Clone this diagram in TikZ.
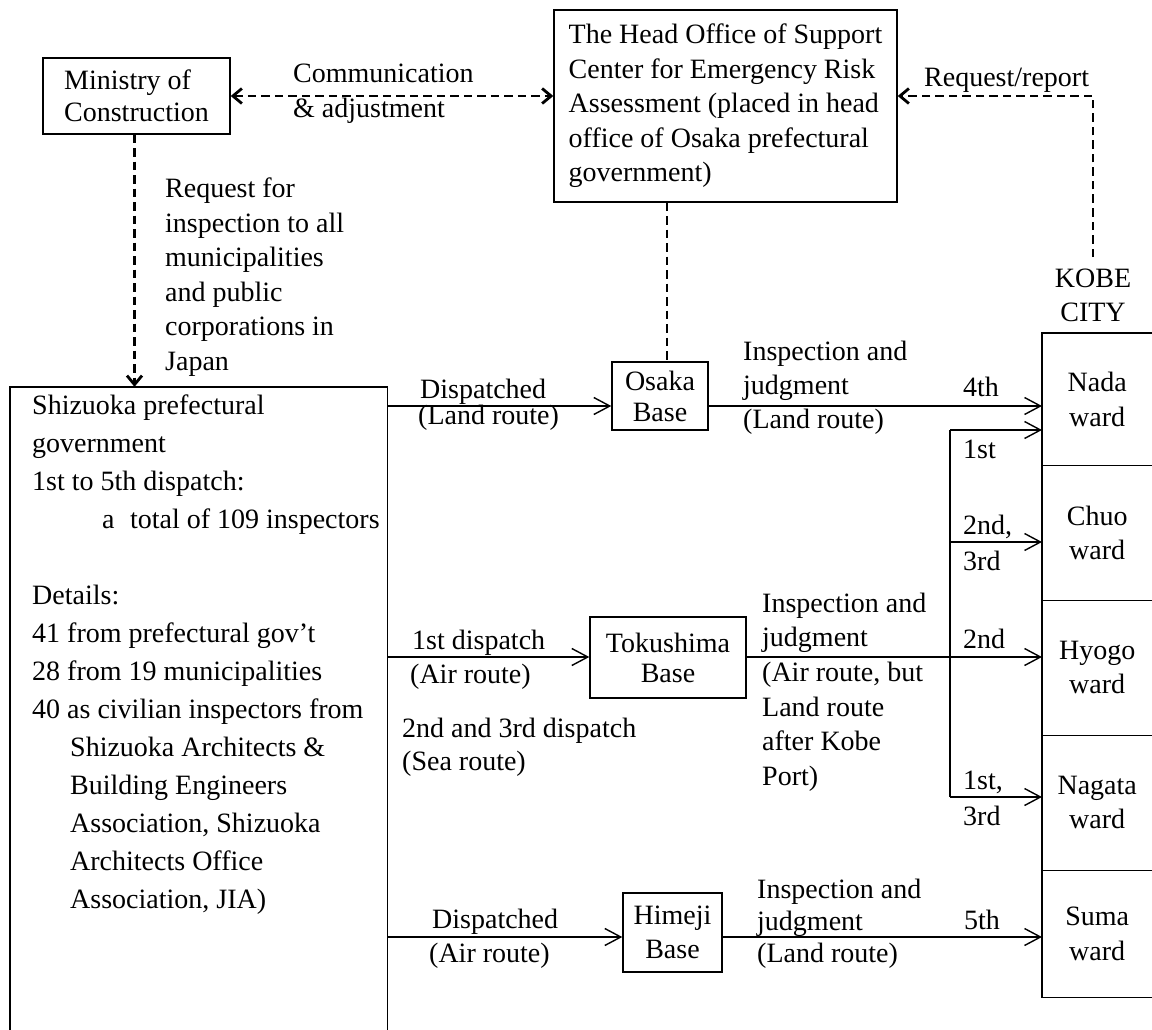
\documentclass[tikz,border=0pt]{standalone}
\usepackage{fontspec}
\setmainfont{Liberation Serif}
\usetikzlibrary{arrows.meta}
\begin{document}
\begin{tikzpicture}[x=1pt,y=-1pt,
  every node/.style={font=\fontsize{28}{34.5}\selectfont, inner sep=0pt},
  box/.style={draw, line width=1.4pt, align=center},
  lbl/.style={anchor=base west},
  blk/.style={anchor=north west, align=left},
  ward/.style={minimum width=110pt, align=center, anchor=north west},
  sol/.style={line width=1.4pt, -{Straight Barb[length=16pt,width=17pt]}},
  thin/.style={line width=1.4pt},
  dsh/.style={line width=2.4pt, dash pattern=on 8.5pt off 5pt}
]
\useasboundingbox (0,0) rectangle (1152,1030);

% boxes
\node[box, minimum width=187pt, minimum height=76pt, align=left,
      font=\fontsize{28}{32}\selectfont] (min) at (136.5,96) {Ministry of\\Construction};
\node[box, minimum width=343pt, minimum height=192pt, align=left] (head) at (725.5,106)
  {The Head Office of Support\\Center for Emergency Risk\\Assessment (placed in head\\office of Osaka prefectural\\government)};
\node[box, minimum width=96pt, minimum height=68pt, font=\fontsize{28}{31}\selectfont] (osaka) at (660,396) {Osaka\\Base};
\node[box, minimum width=156pt, minimum height=81pt, font=\fontsize{28}{30}\selectfont] (toku) at (668,657.5) {Tokushima\\Base};
\node[box, minimum width=99pt, minimum height=79pt, font=\fontsize{28}{34}\selectfont] (himeji) at (672.5,932.5) {Himeji\\Base};

% left box
\node[minimum width=377pt, minimum height=644pt] (shiz) at (198.5,709) {};
\draw[thin] (shiz.south west) -- (shiz.north west) -- (shiz.north east) -- (shiz.south east);
\node[blk, font=\fontsize{28}{38}\selectfont] (shiztxt) at (32,394.7)
  {Shizuoka prefectural\\government\\1st to 5th dispatch:\\\hspace*{70pt}a\hspace{0.55em}total of 109 inspectors\\[38pt]
   Details:\\41 from prefectural gov't\\28 from 19 municipalities\\40 as civilian inspectors from\\
   \hspace*{38pt}Shizuoka Architects \&\\\hspace*{38pt}Building Engineers\\\hspace*{38pt}Association, Shizuoka\\
   \hspace*{38pt}Architects Office\\\hspace*{38pt}Association, JIA)};

% Kobe city column
\node[align=center, anchor=north, font=\fontsize{28}{34}\selectfont] (kobe) at (1093,269) {KOBE\\CITY};
\node[ward, minimum height=132pt] (nada) at (1042,333) {Nada\\ward};
\node[ward, minimum height=135pt] (chuo) at (1042,465) {Chuo\\ward};
\node[ward, minimum height=135pt] (hyogo) at (1042,600) {Hyogo\\ward};
\node[ward, minimum height=135pt] (nagata) at (1042,735) {Nagata\\ward};
\node[ward, minimum height=127pt] (suma) at (1042,870) {Suma\\ward};
\draw[thin] (nada.north east) -- (nada.north west) -- (suma.south west) -- (suma.south east);
\draw[thin] (nada.south west) -- (nada.south east);
\draw[thin] (chuo.south west) -- (chuo.south east);
\draw[thin] (hyogo.south west) -- (hyogo.south east);
\draw[thin] (nagata.south west) -- (nagata.south east);

% dashed connectors
\coordinate (hr) at (head.east |- min.east);
\draw[dsh, {Straight Barb[length=9pt,width=15pt,line width=2.8pt]}-{Straight Barb[length=9pt,width=15pt,line width=2.8pt]}]
  (min.east) -- (min.east -| head.west);
\draw[dsh, -{Straight Barb[length=9pt,width=15pt,line width=2.8pt]}] ([yshift=12pt]kobe.north) |- (hr);
\draw[dsh, -{Straight Barb[length=9pt,width=15pt,line width=2.8pt]}] ([xshift=-2pt]min.south) -- ([xshift=-2pt]min.south |- shiz.north);
\draw[dsh] ([xshift=7pt]osaka.north |- head.south) -- ([xshift=7pt]osaka.north);

% text labels near top
\node[lbl] (comm1) at (293,83) {Communication};
\node[lbl] (comm2) at (293,118) {\& adjustment};
\node[lbl] (req) at (924,87) {Request/report};
\node[blk] (reqfor) at (165,177.7) {Request for\\inspection to all\\municipalities\\and public\\corporations in\\Japan};

% route lines
\coordinate (l1) at (0,406);
\coordinate (l2) at (0,657);
\coordinate (l3) at (0,937);
\draw[sol] (shiz.north east |- l1) -- (osaka.west |- l1);
\draw[sol] (osaka.east |- l1) -- (nada.west |- l1);
\draw[sol] (shiz.north east |- l2) -- (toku.west |- l2);
\draw[sol] (toku.east |- l2) -- (hyogo.west |- l2);
\draw[sol] (shiz.north east |- l3) -- (himeji.west |- l3);
\draw[sol] (himeji.east |- l3) -- (suma.west |- l3);

% branch
\coordinate (b1) at (950,430);
\coordinate (b2) at (950,542);
\coordinate (b3) at (950,797);
\draw[line width=1.2pt] (b1) -- (b3);
\draw[sol] (b1) -- (b1 -| nada.west);
\draw[sol] (b2) -- (b2 -| chuo.west);
\draw[sol] (b3) -- (b3 -| nagata.west);

% route labels
\node[lbl] (d1a) at (420,398) {Dispatched};
\node[lbl] (d1b) at (418,424) {(Land route)};
\node[blk, font=\fontsize{28}{34}\selectfont] (i1) at (743,340.7) {Inspection and\\judgment\\(Land route)};
\node[lbl] (n4) at (963,396) {4th};
\node[lbl] (n1) at (963,458) {1st};
\node[lbl] (n23a) at (963,534) {2nd,};
\node[lbl] (n23b) at (963,570) {3rd};
\node[lbl] (d2a) at (412,649) {1st dispatch};
\node[lbl] (d2b) at (410,683) {(Air route)};
\node[lbl] (d2c) at (402,737) {2nd and 3rd dispatch};
\node[lbl] (d2d) at (402,770) {(Sea route)};
\node[blk, font=\fontsize{28}{34.6}\selectfont] (i2) at (762,592.7) {Inspection and\\judgment\\(Air route, but\\Land route\\after Kobe\\Port)};
\node[lbl] (n2) at (963,648) {2nd};
\node[lbl] (n13a) at (963,789) {1st,};
\node[lbl] (n13b) at (963,825) {3rd};
\node[lbl] (d3a) at (432,928) {Dispatched};
\node[lbl] (d3b) at (429,962) {(Air route)};
\node[blk, font=\fontsize{28}{32}\selectfont] (i3) at (757,878.7) {Inspection and\\judgment\\(Land route)};
\node[lbl] (n5) at (964,929) {5th};
\end{tikzpicture}
\end{document}
